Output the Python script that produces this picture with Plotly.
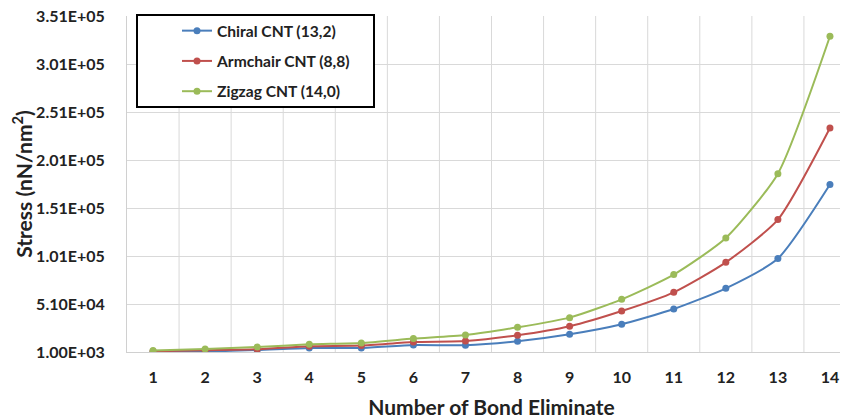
import plotly.graph_objects as go

bonds = list(range(1, 15))
chiral = [1000, 1500, 3000, 5200, 5200, 8300, 8000, 12150, 19400, 29850, 45800, 67350, 98300, 175400]
armchair = [1800, 2800, 3800, 6900, 7700, 11400, 12450, 18400, 27800, 43700, 63200, 94400, 138900, 234300]
zigzag = [2500, 4100, 6200, 9000, 10400, 14950, 18700, 26700, 36800, 55900, 81600, 119750, 186800, 329900]

series_names = ["Chiral CNT (13,2)", "Armchair CNT (8,8)", "Zigzag CNT (14,0)"]
series_colors = ["#4A7EBB", "#C0504D", "#9BBB59"]

y_tick_vals = [1000, 51000, 101000, 151000, 201000, 251000, 301000, 351000]
y_tick_text = ["1.00E+03", "5.10E+04", "1.01E+05", "1.51E+05", "2.01E+05", "2.51E+05", "3.01E+05", "3.51E+05"]

FONT = "Lato"
OFF = 8  # page body margin offset

fig = go.Figure()
for i, (name, vals, col) in enumerate(zip(series_names, [chiral, armchair, zigzag], series_colors)):
    fig.add_trace(go.Scatter(
        x=bonds, y=vals, name=name, mode="lines+markers",
        line=dict(color=col, width=2, shape="spline", smoothing=0.6),
        marker=dict(color=col, size=7),
        legendgroup=f"g{i}",
    ))

W, H = 848, 419
ml, mt, mb, mr = 127 - OFF, 16 - OFF, H - (352 - OFF), 0
pw = W - ml - mr
ph = H - mt - mb


def fx(px):
    return (px - OFF - ml) / pw


def fy(py):
    return 1 - (py - OFF - mt) / ph


fig.update_layout(
    width=W, height=H,
    margin=dict(l=ml, r=mr, t=mt, b=mb, pad=0, autoexpand=False),
    paper_bgcolor="white", plot_bgcolor="white",
    font=dict(family=FONT, color="#222222"),
    showlegend=True,
    legend=dict(
        x=fx(177), y=fy(14), xanchor="left", yanchor="top",
        bgcolor="rgba(0,0,0,0)", borderwidth=0,
        font=dict(family=FONT, size=15.6, color="#222222", weight="bold"),
        tracegroupgap=7, itemwidth=30,
    ),
    xaxis=dict(
        range=[0.5, 14.5], tickmode="array", tickvals=bonds,
        ticktext=[str(b) for b in bonds], automargin=False,
        showgrid=False, zeroline=False,
        showline=True, linecolor="#D0D0D0", linewidth=1,
        ticks="outside", ticklen=0, ticklabelstandoff=11,
        tickfont=dict(family=FONT, size=16, color="#222222", weight="bold"),
        title=dict(text="Number of Bond Eliminate", standoff=15,
                   font=dict(family=FONT, size=21, color="#222222", weight="bold")),
    ),
    yaxis=dict(
        range=[1000, 351000], tickmode="array", tickvals=y_tick_vals, ticktext=y_tick_text,
        automargin=False, ticklabeloverflow="allow",
        showgrid=True, gridcolor="#D9D9D9", gridwidth=1, zeroline=False,
        showline=True, linecolor="#D0D0D0", linewidth=1,
        ticks="outside", ticklen=0, ticklabelstandoff=18,
        tickfont=dict(family=FONT, size=16, color="#222222", weight="bold"),
        title=dict(text="Stress (nN/nm<sup>2</sup>)", standoff=10,
                   font=dict(family=FONT, size=21, color="#222222", weight="bold")),
    ),
)

# vertical category gridlines (between categories) as in the original
for k in range(1, 15):
    fig.add_shape(type="line", xref="x", yref="paper", x0=k + 0.5, x1=k + 0.5, y0=0, y1=1,
                  line=dict(color="#D9D9D9", width=1), layer="below")

# legend box
fig.add_shape(type="rect", xref="paper", yref="paper",
              x0=fx(137), x1=fx(374), y0=fy(107), y1=fy(15),
              line=dict(color="black", width=2), fillcolor="white", layer="above")

fig.write_html("out.html")
